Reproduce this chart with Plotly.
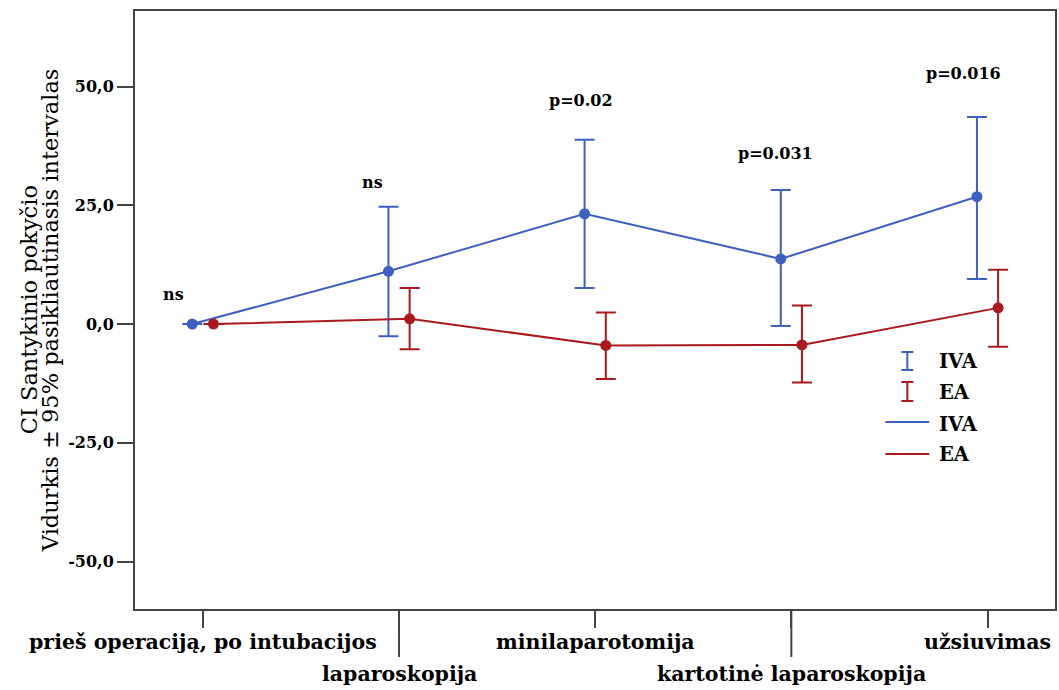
import plotly.graph_objects as go

categories = ["prieš operaciją, po intubacijos", "laparoskopija", "minilaparotomija",
              "kartotinė laparoskopija", "užsiuvimas"]
iva_mean = [0.0, 11.1, 23.2, 13.7, 26.8]
iva_low = [0.0, -2.6, 7.6, -0.4, 9.5]
iva_high = [0.0, 24.7, 38.8, 28.2, 43.6]
ea_mean = [0.0, 1.1, -4.5, -4.4, 3.4]
ea_low = [0.0, -5.3, -11.6, -12.3, -4.8]
ea_high = [0.0, 7.6, 2.4, 3.9, 11.4]
p_labels = ["ns", "ns", "p=0.02", "p=0.031", "p=0.016"]
p_label_y = [6.2, 29.7, 47.0, 36.0, 52.8]
y_ticks = [-50, -25, 0, 25, 50]
y_ticktext = [f"{v:.1f}".replace(".", ",") for v in y_ticks]
y_title_lines = ["CI Santykinio pokyčio", "Vidurkis ± 95% pasikliautinasis intervalas"]

BLUE = "#3F5FBE"
RED = "#A9191D"
AX = "#444444"
SERIF_B = dict(family="DejaVu Serif", weight="bold", color="black")

W, H = 1059, 690
ML, MR, MT, MB = 135, 2, 11, 81
PW, PH = W - ML - MR, H - MT - MB
OFF = 0.054
idx = list(range(len(categories)))


def px(xp):
    return (xp - ML) / PW


def py(yp):
    return (H - MB - yp) / PH


fig = go.Figure()
for mean, low, high, col, sign in [(iva_mean, iva_low, iva_high, BLUE, -1),
                                    (ea_mean, ea_low, ea_high, RED, 1)]:
    fig.add_trace(go.Scatter(
        x=[i + sign * OFF for i in idx], y=mean, mode="lines+markers",
        line=dict(color=col, width=2), marker=dict(color=col, size=11),
        error_y=dict(type="data", symmetric=False,
                     array=[h - m for h, m in zip(high, mean)],
                     arrayminus=[m - l for m, l in zip(mean, low)],
                     color=col, thickness=2, width=10),
        showlegend=False, hoverinfo="skip"))

annotations = []
# p-value labels
p_dx = [-0.15, -0.135, -0.072, -0.08, -0.12]
for i, (t, yv, dx) in enumerate(zip(p_labels, p_label_y, p_dx)):
    annotations.append(dict(x=i + dx, y=yv, xref="x", yref="y", text=t, showarrow=False,
                            font=dict(size=16, **SERIF_B)))
# category labels (two staggered rows)
for i, c in enumerate(categories):
    annotations.append(dict(x=i, y=0, xref="x", yref="paper", text=c, showarrow=False,
                            yanchor="middle", yshift=-33 if i % 2 == 0 else -65,
                            font=dict(size=20.5, **SERIF_B)))
# y-axis title (two lines)
for line, xp in zip(y_title_lines, (29, 50)):
    annotations.append(dict(x=px(xp), y=0.5, xref="paper", yref="paper", text=line,
                            textangle=-90, showarrow=False, xanchor="center", yanchor="middle",
                            font=dict(family="DejaVu Serif", size=22.5, color="black")))

shapes = []
# long ticks for second row labels
for i in idx:
    if i % 2 == 1:
        shapes.append(dict(type="line", xref="x", yref="paper", x0=i, x1=i,
                           y0=0, y1=-48 / PH, line=dict(color=AX, width=2)))

# manual legend
leg = [("ibeam", BLUE, "IVA", 352, 370, 361),
       ("ibeam", RED, "EA", 382, 401, 392),
       ("line", BLUE, "IVA", 422, 422, 424),
       ("line", RED, "EA", 454, 454, 455)]
for kind, col, label, y0, y1, yt in leg:
    if kind == "ibeam":
        shapes.append(dict(type="line", xref="paper", yref="paper", x0=px(909), x1=px(909),
                           y0=py(y0), y1=py(y1), line=dict(color=col, width=2)))
        for yy in (y0, y1):
            shapes.append(dict(type="line", xref="paper", yref="paper", x0=px(903), x1=px(915),
                               y0=py(yy), y1=py(yy), line=dict(color=col, width=2)))
    else:
        shapes.append(dict(type="line", xref="paper", yref="paper", x0=px(887), x1=px(931),
                           y0=py(y0), y1=py(y0), line=dict(color=col, width=2)))
    annotations.append(dict(x=px(939), y=py(yt), xref="paper", yref="paper", text=label,
                            showarrow=False, xanchor="left", yanchor="middle",
                            font=dict(size=19.5, **SERIF_B)))

fig.update_layout(
    width=W, height=H, margin=dict(l=ML, r=MR, t=MT, b=MB),
    paper_bgcolor="white", plot_bgcolor="white",
    xaxis=dict(range=[-0.346, 4.344], tickvals=idx, showticklabels=False,
               ticks="outside", ticklen=17, tickwidth=2, tickcolor=AX,
               showline=True, mirror=True, linecolor=AX, linewidth=2,
               showgrid=False, zeroline=False),
    yaxis=dict(range=[-60, 65.9], tickvals=y_ticks, ticktext=y_ticktext,
               ticks="outside", ticklen=16, tickwidth=2, tickcolor=AX,
               tickfont=dict(size=16, **SERIF_B),
               showline=True, mirror=True, linecolor=AX, linewidth=2,
               showgrid=False, zeroline=False),
    annotations=annotations, shapes=shapes,
)

fig.write_html("out.html", config={"displayModeBar": False},
               post_script="document.body.style.margin='0';")
